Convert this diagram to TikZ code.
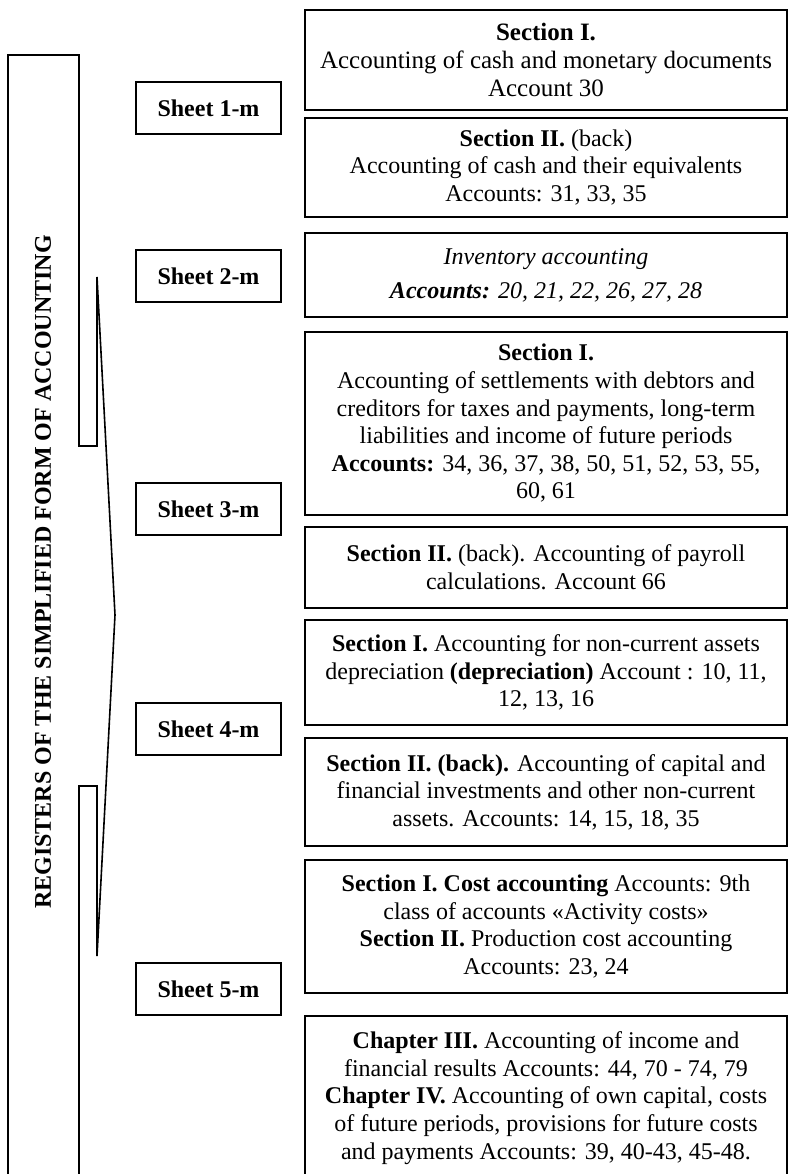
\documentclass[tikz,border=0pt]{standalone}
\usepackage{fontspec}
\setmainfont{Liberation Serif}
\usetikzlibrary{positioning}

\begin{document}
\begin{tikzpicture}[
		x=0.5pt, y=-0.5pt,
		every node/.style={align=center, font=\fontsize{12pt}{13.8pt}\selectfont},
		sheet/.style={draw, line width=0.8pt, minimum width=72.5pt, minimum height=26pt, inner sep=0pt, font=\fontsize{12pt}{13.8pt}\selectfont\bfseries},
		secbox/.style={draw, line width=1pt, minimum width=241pt, inner sep=0pt, outer sep=0pt, anchor=north west},
		frame/.style={line width=0.8pt, line join=miter}
	]
	\clip (0,0) rectangle (789,1174);

	% Title and bracket
	\node[rotate=90, font=\fontsize{12pt}{13.8pt}\selectfont\bfseries] (title) at (43,572) {REGISTERS OF THE SIMPLIFIED FORM OF ACCOUNTING};
	\draw[frame] (8,1180) -- (8,55) -- (79,55) -- (79,446) -- (97,446) -- (97,277) -- (115,615)
		-- (97,956) -- (97,786) -- (79,786) -- (79,1180);

	% Sheets
	\node[sheet] (sheet1) at (208.5,108) {Sheet 1-m};
	\node[sheet] (sheet2) at (208.5,276) {Sheet 2-m};
	\node[sheet] (sheet3) at (208.5,509) {Sheet 3-m};
	\node[sheet] (sheet4) at (208.5,729) {Sheet 4-m};
	\node[sheet] (sheet5) at (208.5,989) {Sheet 5-m};

	% Sections
	\node[secbox, minimum height=50pt, font=\fontsize{12.5pt}{13.8pt}\selectfont] (cash) at (305,10) {\textbf{Section I.}\\Accounting of cash and monetary documents\\Account 30};
	\node[secbox, minimum height=49.5pt, below=4pt of cash] (equiv) {\textbf{Section II.} (back)\\Accounting of cash and their equivalents\\Accounts: 31, 33, 35};
	\node[secbox, minimum height=42pt, below=8pt of equiv] (stock) {\textit{Inventory accounting}\\[3.2pt]\textbf{\textit{Accounts:}} \textit{20, 21, 22, 26, 27, 28}};
	\node[secbox, minimum height=91.5pt, below=7.5pt of stock] (settle) {\textbf{Section I.}\\Accounting of settlements with debtors and\\creditors for taxes and payments, long-term\\liabilities and income of future periods\\\textbf{Accounts:} 34, 36, 37, 38, 50, 51, 52, 53, 55,\\60, 61};
	\node[secbox, minimum height=40.5pt, below=6pt of settle] (payroll) {\textbf{Section II.} (back). Accounting of payroll\\calculations. Account 66};
	\node[secbox, minimum height=52.5pt, below=6pt of payroll] (deprec) {\textbf{Section I.} Accounting for non-current assets\\depreciation \textbf{(depreciation)} Account : 10, 11,\\12, 13, 16};
	\node[secbox, minimum height=54pt, below=6.5pt of deprec] (invest) {\textbf{Section II. (back).} Accounting of capital and\\financial investments and other non-current\\assets. Accounts: 14, 15, 18, 35};
	\node[secbox, minimum height=66.5pt, below=7pt of invest] (costs) {\textbf{Section I. Cost accounting} Accounts: 9th\\class of accounts «Activity costs»\\\textbf{Section II.} Production cost accounting\\Accounts: 23, 24};
	\node[secbox, minimum height=82pt, below=11.5pt of costs] (income) {\textbf{Chapter III.} Accounting of income and\\financial results Accounts: 44, 70 - 74, 79\\\textbf{Chapter IV.} Accounting of own capital, costs\\of future periods, provisions for future costs\\and payments Accounts: 39, 40-43, 45-48.};

\end{tikzpicture}
\end{document}
